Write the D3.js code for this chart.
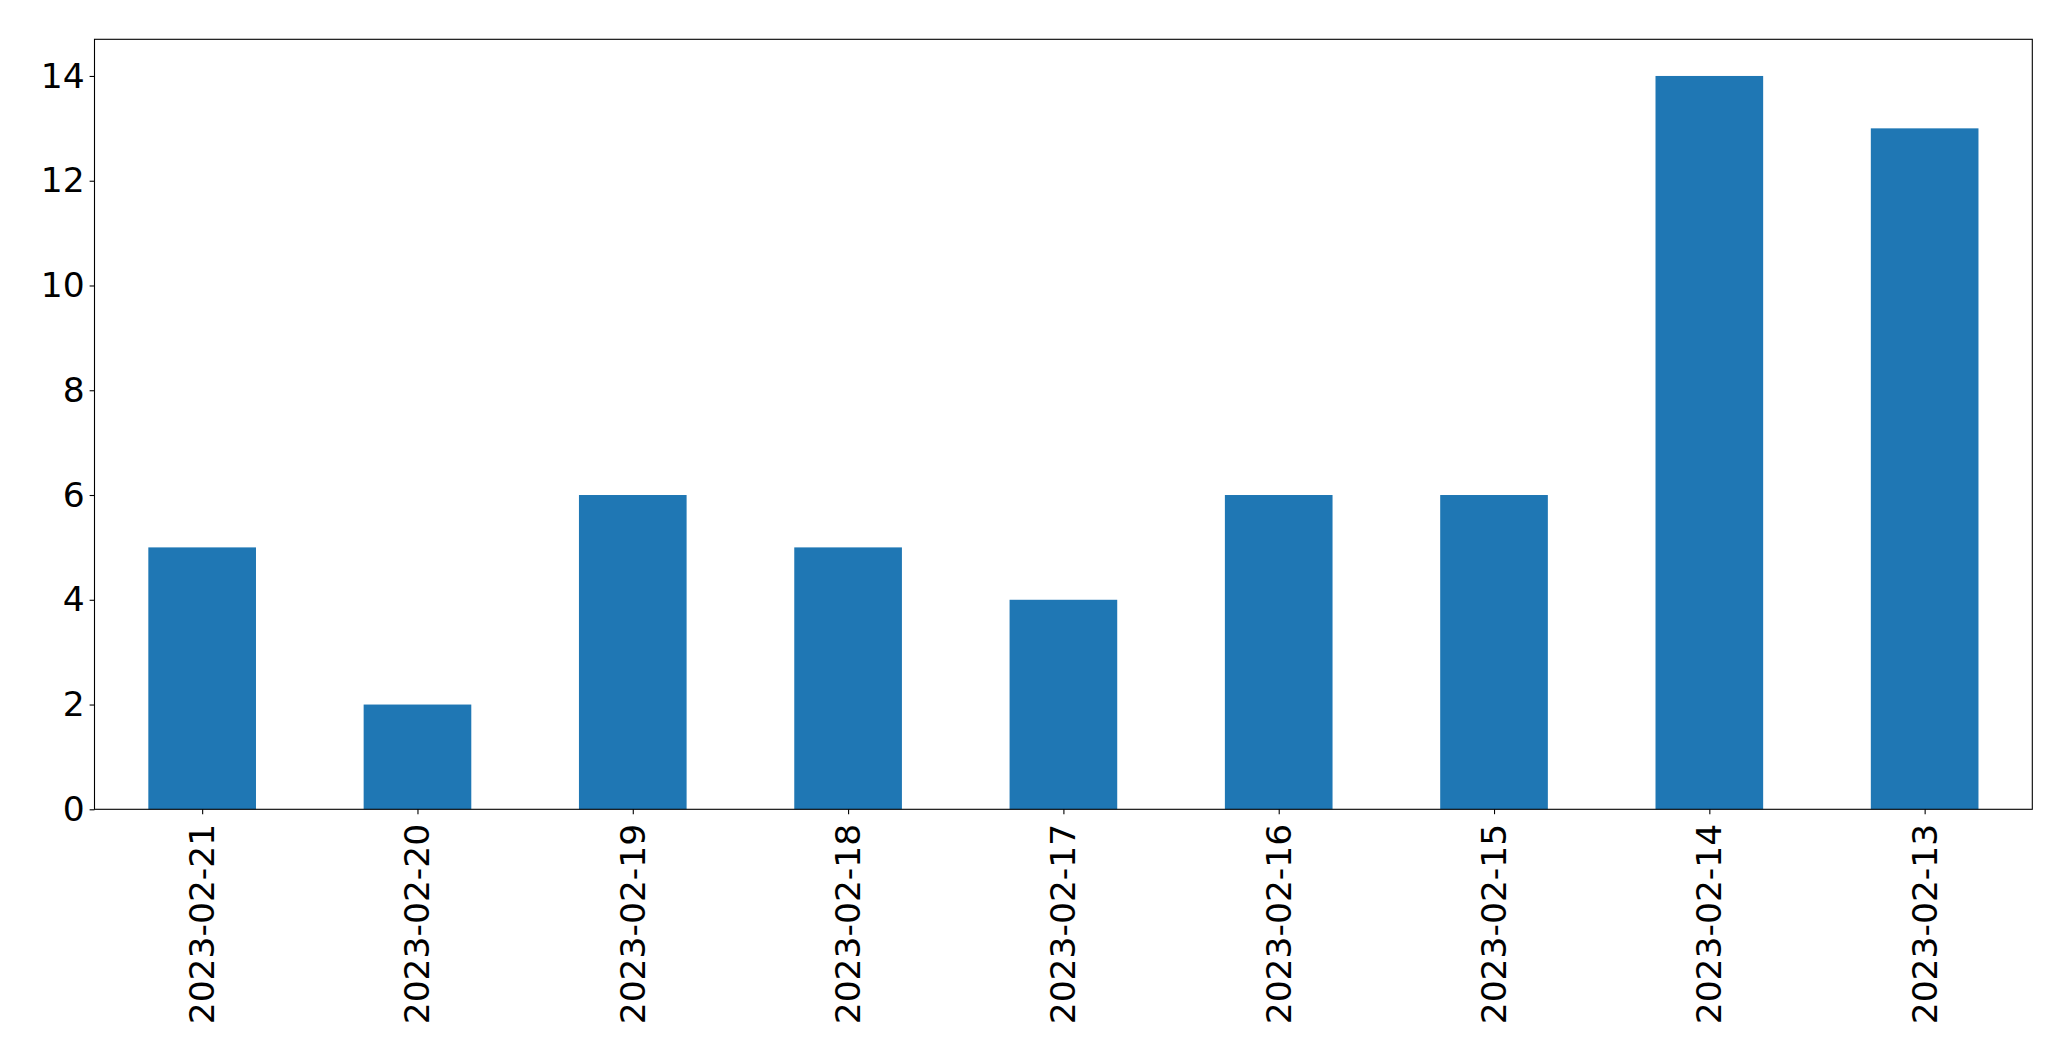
<!DOCTYPE html>
<html>
<head>
<meta charset="utf-8">
<script src="https://cdn.jsdelivr.net/npm/d3@7"></script>
<style>
html,body{margin:0;padding:0;background:#fff;}
svg{display:block;}
</style>
</head>
<body>
<script>
const categories = ["2023-02-21","2023-02-20","2023-02-19","2023-02-18","2023-02-17","2023-02-16","2023-02-15","2023-02-14","2023-02-13"];
const values = [5, 2, 6, 5, 4, 6, 6, 14, 13];
const yTicks = [0, 2, 4, 6, 8, 10, 12, 14];

const W = 2071, H = 1061;
const m = {left: 94.5, right: 2032.3, top: 39.3, bottom: 809.3};
const fontSize = 34.5;

const svg = d3.select("body").append("svg").attr("width", W).attr("height", H);

const x = d3.scaleLinear().domain([-0.5, categories.length - 0.5]).range([m.left, m.right]);
const y = d3.scaleLinear().domain([0, 14.7]).range([m.bottom, m.top]);
const unit = x(1) - x(0);

svg.append("g").selectAll("rect").data(values).join("rect")
  .attr("x", (d, i) => x(i - 0.25))
  .attr("width", unit * 0.5)
  .attr("y", d => y(d))
  .attr("height", d => y(0) - y(d))
  .attr("fill", "#1f77b4");

// frame
svg.append("rect")
  .attr("x", m.left).attr("y", m.top)
  .attr("width", m.right - m.left).attr("height", m.bottom - m.top)
  .attr("fill", "none").attr("stroke", "#000").attr("stroke-width", 1.1);

const yAxis = d3.axisLeft(y).tickValues(yTicks).tickSize(4.9).tickPadding(5).tickFormat(d3.format("d"));
const gy = svg.append("g").attr("transform", `translate(${m.left},0)`).call(yAxis);
gy.select(".domain").remove();
gy.selectAll("line").attr("stroke", "#000").attr("stroke-width", 1.1);
gy.selectAll("text").attr("font-family", "DejaVu Sans").attr("font-size", fontSize).attr("fill", "#000");

const xAxis = d3.axisBottom(x).tickValues(d3.range(categories.length)).tickSize(4.9).tickFormat(i => categories[i]);
const gx = svg.append("g").attr("transform", `translate(0,${m.bottom})`).call(xAxis);
gx.select(".domain").remove();
gx.selectAll("line").attr("stroke", "#000").attr("stroke-width", 1.1);
gx.selectAll("text")
  .attr("font-family", "DejaVu Sans").attr("font-size", fontSize).attr("fill", "#000")
  .attr("text-anchor", "end")
  .attr("transform", "rotate(-90)")
  .attr("x", -14.5)
  .attr("y", 0)
  .attr("dy", "0.33em");
</script>
</body>
</html>
